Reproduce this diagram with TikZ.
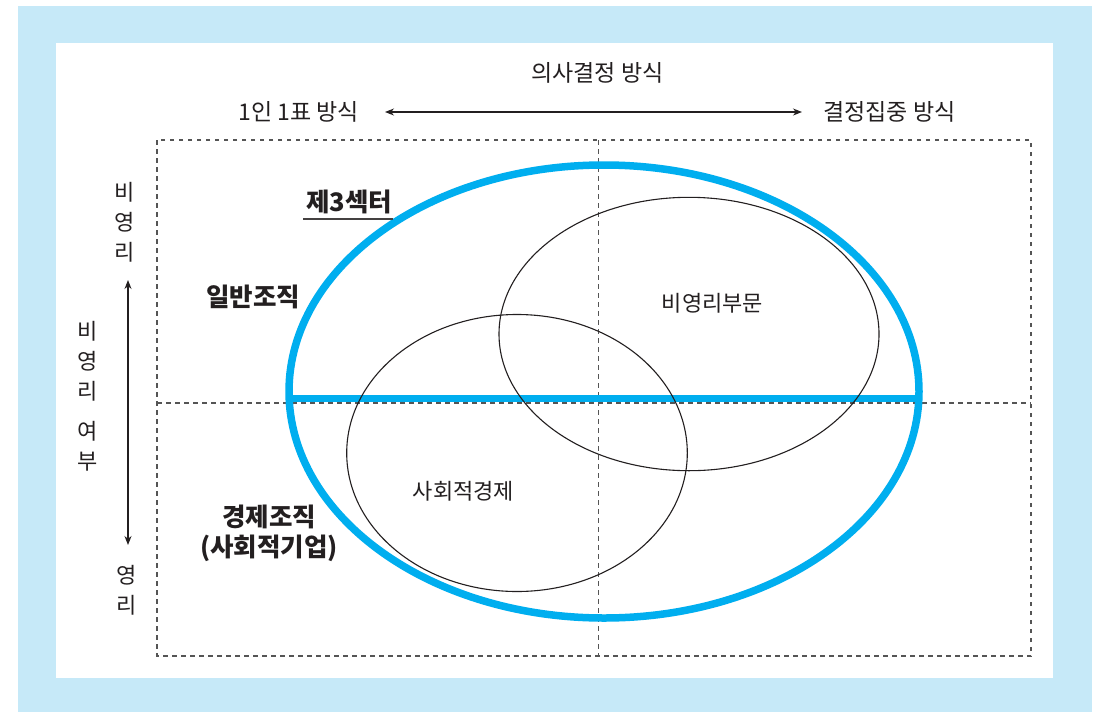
\documentclass[tikz,border=0pt]{standalone}
\usepackage{fontspec}
\setmainfont{Noto Sans CJK KR}
\usetikzlibrary{arrows.meta,shapes.geometric}
\definecolor{frameblue}{HTML}{C6E9F8}
\definecolor{cyanline}{HTML}{00AEEF}
\definecolor{ink}{HTML}{231F20}
\definecolor{dashgray}{HTML}{555555}
\begin{document}
\begin{tikzpicture}[x=1pt,y=-1pt,
  lbl/.style={text=ink,font=\fontsize{23}{27}\selectfont,inner sep=0pt},
  boldlbl/.style={text=ink,font=\fontsize{25.5}{30}\selectfont\bfseries,inner sep=0pt,align=center},
  vlbl/.style={text=ink,font=\fontsize{22}{30}\selectfont,inner sep=0pt,align=center},
  inlbl/.style={text=ink,font=\fontsize{22}{26}\selectfont,inner sep=0pt},
  grid/.style={draw=dashgray,line width=1.4pt,dash pattern=on 4.5pt off 4.5pt},
  thinell/.style={ellipse,draw=ink,line width=1.1pt,inner sep=0pt},
  bigell/.style={ellipse,draw=cyanline,line width=7.5pt,inner sep=0pt},
  axisarrow/.style={draw=ink,line width=1.2pt,{Stealth[length=9pt,width=7pt]}-{Stealth[length=9pt,width=7pt]}},
]
\useasboundingbox (0,0) rectangle (1099,712);
\fill[white] (0,0) rectangle (1099,712);
\fill[frameblue] (18,6) rectangle (1092,712);
\fill[white] (56,43) rectangle (1053,678);

% dashed quadrant grid
\draw[grid] (157,140) rectangle (1031,656);
\draw[grid] (598.5,140) -- (598.5,656);
\draw[grid] (157,403) -- (1031,403);

% third sector ellipse
\node[bigell,minimum width=630pt,minimum height=453pt] (third) at (604,391.5) {};
\coordinate (bl) at (289,398.5);
\coordinate (br) at (919,398.5);
\draw[cyanline,line width=7.5pt] (bl) -- (br);

% inner ellipses
\node[thinell,minimum width=380pt,minimum height=273.4pt] (npo) at (689,334) {};
\node[thinell,minimum width=340.6pt,minimum height=277pt] (se) at (517,453) {};

% top axis
\node[lbl] (title) at (597.5,73) {의사결정 방식};
\node[lbl,anchor=east] (onevote) at (359,112) {1인 1표 방식};
\node[lbl,anchor=west] (central) at (823,112) {결정집중 방식};
\draw[axisarrow,shorten <=26pt,shorten >=21pt] (onevote.east) -- (central.west);

% left axis
\node[vlbl] (nonprofit) at (125,222) {비\\영\\리};
\node[vlbl] (whether) at (88,396) {비\\영\\리\\[10pt]여\\부};
\node[vlbl] (profit) at (127,590) {영\\리};
\coordinate (vtop) at (128,280);
\coordinate (vbot) at (128,545);
\draw[axisarrow] (vtop) -- (vbot);

% labels
\node[boldlbl] (t3) at (349,202) {제3섹터};
\draw[draw=ink!85,line width=1.3pt] (303,219) -- (393,219);
\node[boldlbl] (general) at (253,297) {일반조직};
\node[boldlbl] (econ) at (269,533) {경제조직\\(사회적기업)};
\node[inlbl] (npolbl) at (712.5,303) {비영리부문};
\node[inlbl] (selbl) at (463.5,491) {사회적경제};
\end{tikzpicture}
\end{document}
